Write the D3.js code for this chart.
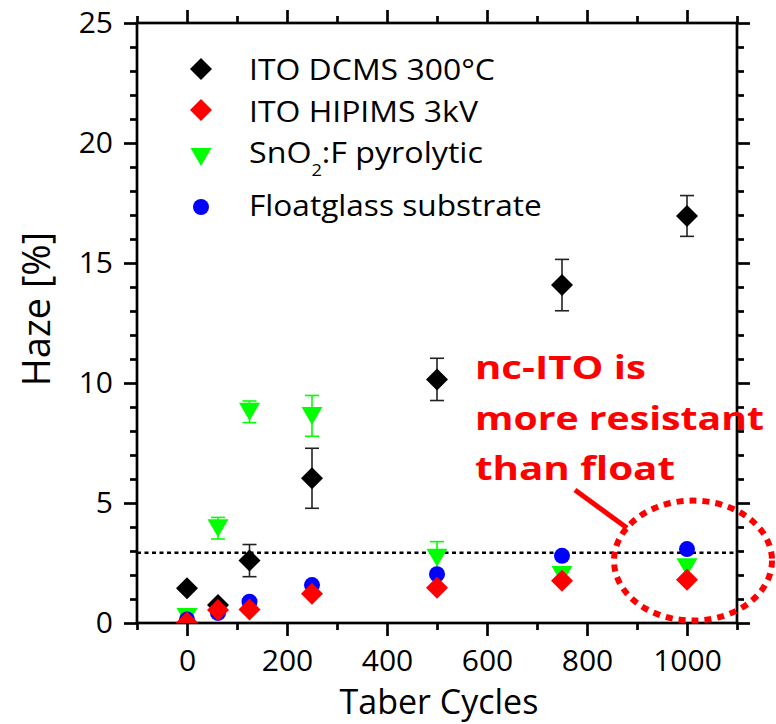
<!DOCTYPE html>
<html>
<head>
<meta charset="utf-8">
<script src="https://cdn.jsdelivr.net/npm/d3@7"></script>
<style>
body{margin:0;background:#fff;}
#canvas{width:776px;height:724px;}
text{font-family:"Open Sans",sans-serif;}
</style>
</head>
<body>
<div id="canvas" class="canvas"></div>
<script>
// data
var cycles = [0, 62, 125, 250, 500, 750, 1000];
var dcms     = [1.45, 0.75, 2.6, 6.03, 10.15, 14.08, 16.96];
var dcmsErr  = [0, 0, 0.67, 1.25, 0.88, 1.07, 0.85];
var hipims   = [0.02, 0.54, 0.56, 1.22, 1.47, 1.76, 1.8];
var sno2     = [0.25, 3.95, 8.8, 8.63, 2.72, 2.0, 2.32];
var sno2Err  = [0.3, 0.45, 0.45, 0.85, 0.67, 0, 0];
var floatgl  = [0.15, 0.42, 0.89, 1.58, 2.03, 2.8, 3.08];
var limit = 2.93;
var legendNames = ['ITO DCMS 300°C', 'ITO HIPIMS 3kV', 'SnO2:F pyrolytic', 'Floatglass substrate'];
var noteLines = ['nc-ITO is', 'more resistant', 'than float'];

var m = {t:23, r:39, b:101, l:137},
    w = 776 - m.l - m.r,
    h = 724 - m.t - m.b;

var svg = d3.select('.canvas').append('svg')
    .attr('width', 776).attr('height', 724);

var x = d3.scaleLinear().domain([-100, 1100]).range([0, w]);
var y = d3.scaleLinear().domain([0, 25]).range([h, 0]);

svg.append('defs').append('clipPath').attr('id', 'clip')
    .append('rect').attr('width', w).attr('height', h);

var plot = svg.append('g').attr('transform', 'translate(' + m.l + ',' + m.t + ')');

// stretch a text horizontally to the width it has in the picture
function fitWidth(t, x0, y0, target){
    var len = t.node().getComputedTextLength();
    t.attr('x', 0).attr('y', 0)
        .attr('transform', 'translate(' + x0 + ',' + y0 + ') scale(' + (target / len) + ',1)');
}

// axes
var xMajor = d3.range(0, 1001, 200), xMinor = d3.range(-100, 1101, 200);
var yMajor = d3.range(0, 26, 5), yMinor = d3.range(0, 26, 1).filter(function(d){ return d % 5; });

function styleAxis(g){
    g.select('.domain').remove();
    g.selectAll('line').attr('stroke', '#000').attr('stroke-width', 2.7);
    g.selectAll('text').attr('fill', '#000').style('font-size', '30px');
}
plot.append('g').attr('transform', 'translate(0,' + h + ')')
    .call(d3.axisBottom(x).tickValues(xMajor).tickSize(13).tickPadding(14).tickFormat(d3.format('d')))
    .call(styleAxis);
plot.append('g').attr('transform', 'translate(0,' + h + ')')
    .call(d3.axisBottom(x).tickValues(xMinor).tickSize(7).tickFormat('')).call(styleAxis);
plot.append('g')
    .call(d3.axisTop(x).tickValues(xMajor).tickSize(13).tickFormat('')).call(styleAxis);
plot.append('g')
    .call(d3.axisTop(x).tickValues(xMinor).tickSize(7).tickFormat('')).call(styleAxis);
plot.append('g')
    .call(d3.axisLeft(y).tickValues(yMajor).tickSize(13).tickPadding(11).tickFormat(d3.format('d')))
    .call(styleAxis);
plot.append('g')
    .call(d3.axisLeft(y).tickValues(yMinor).tickSize(7).tickFormat('')).call(styleAxis);
plot.append('g').attr('transform', 'translate(' + w + ',0)')
    .call(d3.axisRight(y).tickValues(yMajor).tickSize(13).tickFormat('')).call(styleAxis);
plot.append('g').attr('transform', 'translate(' + w + ',0)')
    .call(d3.axisRight(y).tickValues(yMinor).tickSize(7).tickFormat('')).call(styleAxis);

plot.append('rect').attr('width', w).attr('height', h)
    .attr('fill', 'none').attr('stroke', '#000').attr('stroke-width', 2.7);

// axis titles
svg.append('text').attr('x', 439).attr('y', 714)
    .attr('text-anchor', 'middle').style('font-size', '34px').text('Taber Cycles');
svg.append('text').attr('transform', 'translate(50,309) rotate(-90)')
    .attr('text-anchor', 'middle').style('font-size', '38px').text('Haze [%]');

// dotted reference line
plot.append('line')
    .attr('x1', 0).attr('x2', w).attr('y1', y(limit)).attr('y2', y(limit))
    .attr('stroke', '#000').attr('stroke-width', 2.5).attr('stroke-dasharray', '4,3.5');

// symbols
var diamond = 'M0,-11L11,0L0,11L-11,0Z';
var triDown = 'M-10.5,-9L10.5,-9L0,9Z';

function series(vals, err, color, errColor, shape){
    var d = cycles.map(function(c, i){ return {x: c, y: vals[i], e: err ? err[i] : 0}; });
    var g = plot.append('g').attr('clip-path', 'url(#clip)');
    var eb = g.selectAll('.err').data(d.filter(function(p){ return p.e > 0; }))
        .enter().append('g').attr('stroke', errColor).attr('stroke-width', 1.6);
    eb.append('line').attr('x1', function(p){ return x(p.x); }).attr('x2', function(p){ return x(p.x); })
        .attr('y1', function(p){ return y(p.y - p.e); }).attr('y2', function(p){ return y(p.y + p.e); });
    eb.append('line').attr('x1', function(p){ return x(p.x) - 7; }).attr('x2', function(p){ return x(p.x) + 7; })
        .attr('y1', function(p){ return y(p.y + p.e); }).attr('y2', function(p){ return y(p.y + p.e); });
    eb.append('line').attr('x1', function(p){ return x(p.x) - 7; }).attr('x2', function(p){ return x(p.x) + 7; })
        .attr('y1', function(p){ return y(p.y - p.e); }).attr('y2', function(p){ return y(p.y - p.e); });
    if (shape === 'circle') {
        g.selectAll('.pt').data(d).enter().append('circle')
            .attr('cx', function(p){ return x(p.x); }).attr('cy', function(p){ return y(p.y); })
            .attr('r', 8).attr('fill', color);
    } else {
        g.selectAll('.pt').data(d).enter().append('path')
            .attr('d', shape)
            .attr('transform', function(p){ return 'translate(' + x(p.x) + ',' + y(p.y) + ')'; })
            .attr('fill', color);
    }
}
series(dcms, dcmsErr, '#000', '#222', diamond);
series(sno2, sno2Err, '#00ff00', '#00ff00', triDown);
series(floatgl, null, '#0000ff', null, 'circle');
series(hipims, null, '#ff0000', null, diamond);

// legend
var legend = svg.append('g');
var legY = [69, 110, 157, 207];
var legSym = [
    {c:'#000', s:diamond}, {c:'#ff0000', s:diamond}, {c:'#00ff00', s:triDown}, {c:'#0000ff', s:'circle'}
];
legSym.forEach(function(d, i){
    if (d.s === 'circle') {
        legend.append('circle').attr('cx', 201).attr('cy', legY[i]).attr('r', 8).attr('fill', d.c);
    } else {
        legend.append('path').attr('d', d.s).attr('fill', d.c)
            .attr('transform', 'translate(201,' + legY[i] + ')');
    }
});
var legBase = [80, 121.7, 163.3, 216];
var legWidth = [246, 229, 234, 293];
legendNames.forEach(function(n, i){
    var t = legend.append('text').style('font-size', '30px');
    if (n.indexOf('SnO2') === 0) {
        t.append('tspan').text('SnO');
        t.append('tspan').attr('dy', 13).style('font-size', '17px').text('2');
        t.append('tspan').attr('dy', -13).text(':F pyrolytic');
    } else {
        t.text(n);
    }
    fitWidth(t, 249, legBase[i], legWidth[i]);
});

// annotation
var note = svg.append('g');
var noteY = [10.15, 8.05, 5.96];
var noteWidth = [171, 289, 200];
noteLines.forEach(function(l, i){
    var t = note.append('text')
        .style('font-size', '33px').style('font-weight', 'bold').attr('fill', '#ff0000').text(l);
    fitWidth(t, m.l + x(576), m.t + y(noteY[i]), noteWidth[i]);
});
plot.append('line')
    .attr('x1', x(776)).attr('y1', y(5.54)).attr('x2', x(880)).attr('y2', y(3.96))
    .attr('stroke', '#ff0000').attr('stroke-width', 5);
plot.append('ellipse')
    .attr('cx', x(1012)).attr('cy', y(2.6)).attr('rx', 79).attr('ry', 60)
    .attr('fill', 'none').attr('stroke', '#ff0000').attr('stroke-width', 6)
    .attr('stroke-dasharray', '7,6');
</script>
</body>
</html>
